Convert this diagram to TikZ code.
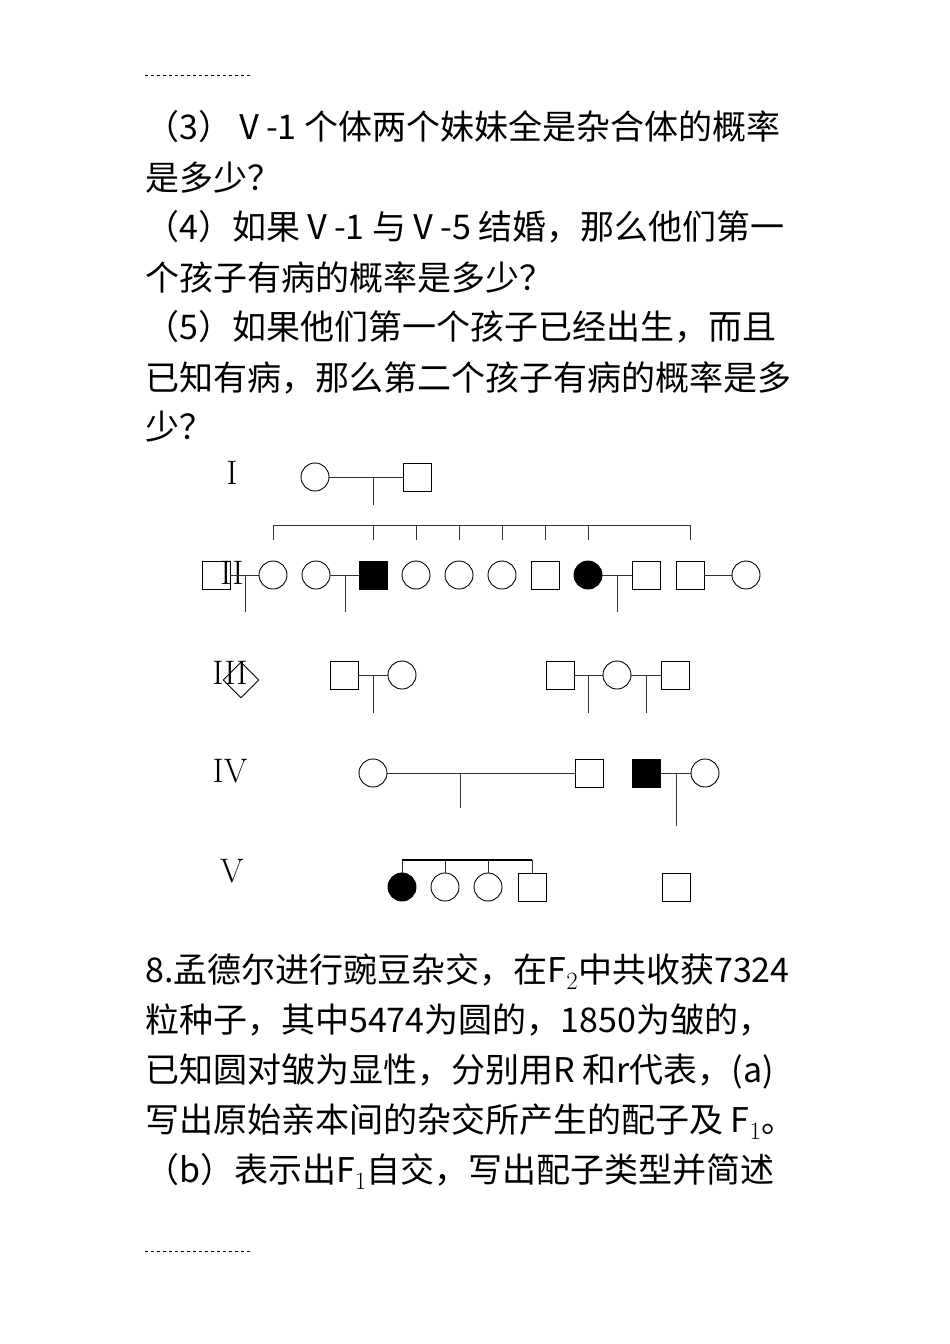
\documentclass[tikz,border=0pt]{standalone}
\usepackage{fontspec}
\newfontfamily\cjk{Noto Sans CJK SC}
\usetikzlibrary{shapes.geometric}
\begin{document}
\begin{tikzpicture}[x=1pt,y=-1pt,
  txt/.style={anchor=base west,inner sep=0pt,font=\cjk\fontsize{34}{50}\selectfont},
  gen/.style={font=\fontsize{34}{34}\selectfont,inner sep=0pt},
  fem/.style={circle,draw,minimum size=28pt,inner sep=0pt,line width=0.9pt},
  mal/.style={rectangle,draw,minimum size=28pt,inner sep=0pt,line width=0.9pt},
  aff/.style={fill=black},
  ln/.style={line width=0.8pt,draw=black!80}]
\useasboundingbox (0,0) rectangle (950,1344);
\draw[dashed,line width=0.6pt] (145,75) -- (250,75);
\draw[dashed,line width=0.6pt] (145,1251) -- (250,1251);
\node[txt] (t1) at (145,139) {（3）Ⅴ-1 个体两个妹妹全是杂合体的概率};
\node[txt] (t2) at (145,190) {是多少？};
\node[txt] (t3) at (145,239) {（4）如果Ⅴ-1 与Ⅴ-5 结婚，那么他们第一};
\node[txt] (t4) at (145,290) {个孩子有病的概率是多少？};
\node[txt] (t5) at (145,339) {（5）如果他们第一个孩子已经出生，而且};
\node[txt] (t6) at (145,390) {已知有病，那么第二个孩子有病的概率是多};
\node[txt] (t7) at (145,439) {少？};
\node[txt] (b1) at (145,982) {8.孟德尔进行豌豆杂交，在F$_2$中共收获7324};
\node[txt] (b2) at (145,1032) {粒种子，其中5474为圆的，1850为皱的，};
\node[txt] (b3) at (145,1082) {已知圆对皱为显性，分别用R 和r代表，(a)};
\node[txt] (b4) at (145,1132) {写出原始亲本间的杂交所产生的配子及 F$_1$。};
\node[txt] (b5) at (145,1182) {（b）表示出F$_1$自交，写出配子类型并简述};
% generation labels
\node[gen] (g1) at (232,473) {I};
\node[gen] (g2) at (232,573) {II};
\node[gen] (g3) at (230,673) {III};
\node[gen] (g4) at (230,771) {IV};
\node[gen] (g5) at (232,871) {V};
% I
\node[fem] (i1) at (315,477) {};
\node[mal] (i2) at (417,477) {};
\draw[ln] (i1) -- (i2);
\coordinate (ic) at (373,477);
\draw[ln] (ic) -- (373,505);
\draw[ln] (273,540) -- (273,525) -- (690,525) -- (690,540);
\foreach \x in {373,416,459,502,545,588} \draw[ln] (\x,525) -- (\x,540);
% II
\node[mal] (a1) at (216,575) {};
\node[fem] (a2) at (273,575) {};
\node[fem] (a3) at (316,575) {};
\node[mal,aff] (a4) at (373,575) {};
\node[fem] (a5) at (416,575) {};
\node[fem] (a6) at (459,575) {};
\node[fem] (a7) at (502,575) {};
\node[mal] (a8) at (545,575) {};
\node[fem,aff] (a9) at (588,575) {};
\node[mal] (a10) at (646,575) {};
\node[mal] (a11) at (690,575) {};
\node[fem] (a12) at (746,575) {};
\draw[ln] (a1) -- (a2); \draw[ln] (245,575) -- (245,612);
\draw[ln] (a3) -- (a4); \draw[ln] (345,575) -- (345,612);
\draw[ln] (a9) -- (a10); \draw[ln] (617,575) -- (617,612);
\draw[ln] (a11) -- (a12);
% III
\node[diamond,draw,minimum size=36pt,inner sep=0pt,line width=0.9pt] (b0) at (241,680) {};
\node[mal] (c1) at (344,675) {};
\node[fem] (c2) at (402,675) {};
\node[mal] (c3) at (560,675) {};
\node[fem] (c4) at (617,675) {};
\node[mal] (c5) at (675,675) {};
\draw[ln] (c1) -- (c2); \draw[ln] (373,675) -- (373,713);
\draw[ln] (c3) -- (c4); \draw[ln] (588,675) -- (588,713);
\draw[ln] (c4) -- (c5); \draw[ln] (646,675) -- (646,713);
% IV
\node[fem] (d1) at (373,773) {};
\node[mal] (d2) at (589,773) {};
\node[mal,aff] (d3) at (646,773) {};
\node[fem] (d4) at (705,773) {};
\draw[ln] (d1) -- (d2); \draw[ln] (460,773) -- (460,808);
\draw[ln] (d3) -- (d4); \draw[ln] (676,773) -- (676,826);
% V
\node[fem,aff] (e1) at (402,887) {};
\node[fem] (e2) at (445,887) {};
\node[fem] (e3) at (488,887) {};
\node[mal] (e4) at (532,887) {};
\node[mal] (e5) at (676,887) {};
\draw[line width=1.3pt] (402,860) -- (532,860);
\draw[ln] (402,860) -- (e1); \draw[ln] (445,860) -- (e2);
\draw[ln] (488,860) -- (e3); \draw[ln] (532,860) -- (e4);
\end{tikzpicture}
\end{document}
